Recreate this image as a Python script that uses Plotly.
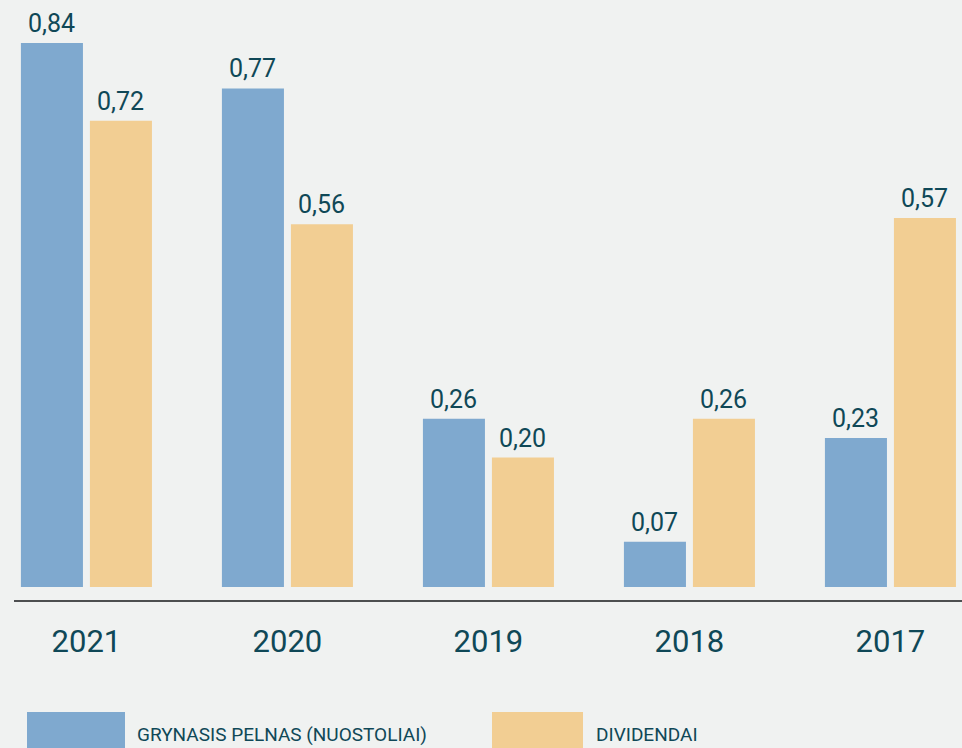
import plotly.graph_objects as go

years = ["2021", "2020", "2019", "2018", "2017"]
net_profit = [0.84, 0.77, 0.26, 0.07, 0.23]
dividends = [0.72, 0.56, 0.20, 0.26, 0.57]
series_names = ["GRYNASIS PELNAS (NUOSTOLIAI)", "DIVIDENDAI"]

BLUE = "#7fa9cf"
TAN = "#f2ce93"
TEXT = "#0f4857"
BG = "#f0f2f1"
FONT = "Roboto, sans-serif"

fig = go.Figure()
fig.add_trace(go.Bar(x=years, y=net_profit, name=series_names[0], marker_color=BLUE,
                     marker_line_width=0, showlegend=False, hoverinfo="skip"))
fig.add_trace(go.Bar(x=years, y=dividends, name=series_names[1], marker_color=TAN,
                     marker_line_width=0, showlegend=False, hoverinfo="skip"))

annotations = []
for vals, shift in ((net_profit, -34.5), (dividends, 34.5)):
    for i, v in enumerate(vals):
        annotations.append(dict(x=i, y=v, xref="x", yref="y", text=f"{v:.2f}".replace(".", ","),
                                showarrow=False, xshift=shift, yanchor="bottom", yshift=3,
                                font=dict(family=FONT, size=25, color=TEXT)))

# custom legend
legend_items = [(series_names[0], BLUE, 27, 125, 135), (series_names[1], TAN, 492, 583, 594)]
shapes = []
for name, col, x0, x1, tx in legend_items:
    shapes.append(dict(type="rect", xref="paper", yref="paper", x0=x0/962, x1=x1/962,
                       y0=-(760-601)/581, y1=-(712-601)/581, fillcolor=col, line_width=0,
                       layer="above"))
    annotations.append(dict(x=tx/962, y=-(734-601)/581, xref="paper", yref="paper", text=name,
                            showarrow=False, xanchor="left", yanchor="middle",
                            font=dict(family=FONT, size=19, color=TEXT)))

shapes.append(dict(type="line", xref="paper", yref="paper", x0=14/962, x1=1, y0=0, y1=0,
                   line=dict(color="#4d4f50", width=2)))

fig.update_layout(
    width=962, height=748,
    margin=dict(l=0, r=0, t=20, b=147),
    paper_bgcolor=BG, plot_bgcolor=BG,
    barmode="group", bargap=0.3134, bargroupgap=0.101,
    separators=",.",
    annotations=annotations, shapes=shapes,
    xaxis=dict(type="category", range=[-0.430, 4.356], showgrid=False, zeroline=False,
               showline=False, ticks="outside", ticklen=13, tickcolor="rgba(0,0,0,0)",
               tickfont=dict(family=FONT, size=31, color=TEXT)),
    yaxis=dict(range=[-0.0216, 0.8756], visible=False, showgrid=False, zeroline=False),
)

fig.write_html("out.html", config={"displayModeBar": False},
               post_script="document.body.style.margin='0';document.body.style.overflow='hidden';")
